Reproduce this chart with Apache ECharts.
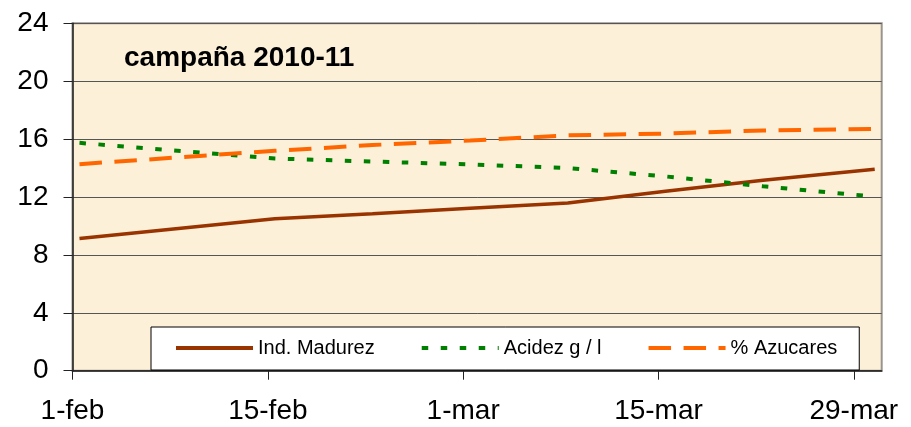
<!DOCTYPE html>
<html>
<head>
<meta charset="utf-8">
<script src="https://cdn.jsdelivr.net/npm/echarts@6/dist/echarts.min.js"></script>
<style>
  html, body { margin: 0; padding: 0; background: #fff; }
  #chart { width: 911px; height: 427px; }
</style>
</head>
<body>
<div id="chart"></div>
<script>
/* datos de la campaña 2010-11 */
var fechas = ['2011-02-01', '2011-02-15', '2011-02-22', '2011-03-01', '2011-03-08', '2011-03-15', '2011-03-22', '2011-03-30'];
var madurez = [9.14, 10.49, 10.85, 11.22, 11.58, 12.4, 13.15, 13.92];
var acidez = [15.74, 14.66, 14.45, 14.25, 14.0, 13.42, 12.74, 12.03];
var azucares = [14.27, 15.19, 15.59, 15.9, 16.26, 16.38, 16.6, 16.7];

var inicio = '2011-02-01';
var tickFechas = ['2011-02-01', '2011-02-15', '2011-03-01', '2011-03-15', '2011-03-29'];
var tickEtiquetas = ['1-feb', '15-feb', '1-mar', '15-mar', '29-mar'];
var finEje = '2011-03-31';

/* dia desde el inicio */
function dia(f) {
	return (Date.parse(f) - Date.parse(inicio)) / 86400000;
}

var tickDias = tickFechas.map(dia);

/* cada punto va en el centro del dia */
function serie(valores) {
	return valores.map(function (v, i) {
		return [dia(fechas[i]) + 0.5, v];
	});
}

var fuente = 'Liberation Sans, Arial, sans-serif';

var myChart = echarts.init(document.getElementById('chart'));
myChart.setOption({
	animation: false,
	backgroundColor: '#ffffff',
	title: {
		text: 'campaña 2010-11',
		left: 124,
		top: 44,
		padding: 0,
		textStyle: { fontFamily: fuente, fontSize: 28, fontWeight: 'bold', color: '#000' }
	},
	grid: {
		left: 72.5,
		top: 23.3,
		right: 29.3,
		bottom: 56.3,
		show: true,
		backgroundColor: '#FCF0D9',
		borderColor: '#9a948c',
		borderWidth: 2
	},
	legend: {
		left: 151,
		top: 327,
		width: 690,
		padding: [11, 22, 12, 23],
		backgroundColor: '#ffffff',
		borderColor: '#000',
		borderWidth: 1,
		borderRadius: 0,
		itemWidth: 77,
		itemHeight: 20,
		itemGap: 45,
		//solo la linea, sin simbolo
		itemStyle: { opacity: 0 },
		lineStyle: { width: 4 },
		textStyle: { fontFamily: fuente, fontSize: 20, color: '#000' },
		data: ['Ind. Madurez', 'Acidez g / l', '% Azucares']
	},
	xAxis: {
		type: 'value',
		min: 0,
		max: dia(finEje),
		interval: 14,
		splitLine: { show: false },
		axisLine: { show: true, lineStyle: { color: '#222', width: 1.5 } },
		axisTick: {
			show: true,
			length: 9,
			inside: false,
			customValues: tickDias,
			lineStyle: { color: '#222', width: 1 }
		},
		axisLabel: {
			margin: 27,
			customValues: tickDias,
			fontFamily: fuente,
			fontSize: 28,
			color: '#000',
			formatter: function (v) {
				var i = tickDias.indexOf(v);
				return i >= 0 ? tickEtiquetas[i] : '';
			}
		}
	},
	yAxis: {
		type: 'value',
		min: 0,
		max: 24,
		interval: 4,
		axisLine: { show: true, lineStyle: { color: '#222', width: 1.5 } },
		axisTick: { show: true, length: 9, inside: false, lineStyle: { color: '#222' } },
		splitLine: { show: true, lineStyle: { color: '#555', width: 1 } },
		axisLabel: { margin: 24, fontFamily: fuente, fontSize: 28, color: '#000' }
	},
	series: [
		{
			name: 'Ind. Madurez',
			type: 'line',
			symbol: 'none',
			data: serie(madurez),
			itemStyle: { color: '#993300' },
			lineStyle: { color: '#993300', width: 3.5, type: 'solid' }
		},
		{
			name: 'Acidez g / l',
			type: 'line',
			symbol: 'none',
			data: serie(acidez),
			itemStyle: { color: '#008000' },
			lineStyle: { color: '#008000', width: 4, type: [6.5, 12.5], cap: 'butt' }
		},
		{
			name: '% Azucares',
			type: 'line',
			symbol: 'none',
			data: serie(azucares),
			itemStyle: { color: '#FF6600' },
			lineStyle: { color: '#FF6600', width: 4, type: [22.5, 12.5], cap: 'butt' }
		}
	]
});
</script>
</body>
</html>
